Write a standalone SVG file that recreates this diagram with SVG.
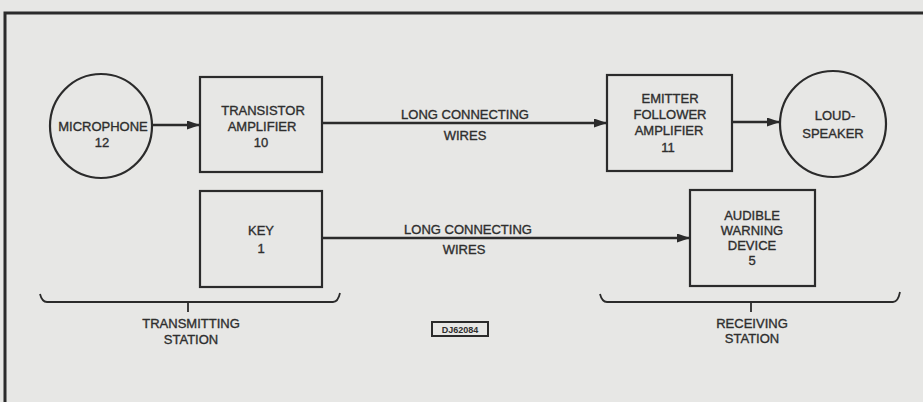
<svg xmlns="http://www.w3.org/2000/svg" width="923" height="402" viewBox="0 0 923 402">
<defs>
<style>
.bg{fill:#e7e7e5}
.n{fill:none;stroke:#2b2b2b;stroke-width:2.2}
.c{fill:none;stroke:#2b2b2b;stroke-width:2.6}
.b{fill:none;stroke:#2b2b2b;stroke-width:1.8}
.t{font-family:"Liberation Sans",Arial,sans-serif;font-size:13px;fill:#2e2e2e;stroke:#2e2e2e;stroke-width:0.35;text-anchor:middle}
.s{font-family:"Liberation Sans",Arial,sans-serif;font-size:9px;font-weight:bold;fill:#2e2e2e;text-anchor:middle}
</style>
<marker id="ah" markerWidth="13" markerHeight="9" refX="13" refY="4.5" orient="auto" markerUnits="userSpaceOnUse">
<path d="M0,0 L13,4.5 L0,9 Z" fill="#2b2b2b"/>
</marker>
</defs>
<rect class="bg" x="0" y="0" width="923" height="402"/>
<path d="M5,402 V13 H923" fill="none" stroke="#2b2b2b" stroke-width="3"/>

<g id="microphone">
<ellipse class="n" cx="101" cy="126" rx="51" ry="52"/>
<text class="t" x="103" y="131">MICROPHONE</text>
<text class="t" x="102" y="147">12</text>
</g>
<g id="transistor-amplifier">
<rect class="n" x="200" y="77" width="122" height="95"/>
<text class="t" x="263" y="115">TRANSISTOR</text>
<text class="t" x="262" y="131">AMPLIFIER</text>
<text class="t" x="261" y="147">10</text>
</g>
<g id="emitter-follower">
<rect class="n" x="607" y="75" width="125" height="96"/>
<text class="t" x="670" y="103">EMITTER</text>
<text class="t" x="670" y="119">FOLLOWER</text>
<text class="t" x="669" y="135">AMPLIFIER</text>
<text class="t" x="668" y="152">11</text>
</g>
<g id="loudspeaker">
<ellipse class="n" cx="833" cy="124" rx="53" ry="53"/>
<text class="t" x="835" y="120">LOUD-</text>
<text class="t" x="833" y="138">SPEAKER</text>
</g>
<g id="key">
<rect class="n" x="200" y="191" width="122" height="96"/>
<text class="t" x="261" y="235">KEY</text>
<text class="t" x="261" y="253">1</text>
</g>
<g id="audible-warning">
<rect class="n" x="690" y="190" width="125" height="96"/>
<text class="t" x="752" y="220">AUDIBLE</text>
<text class="t" x="752" y="235">WARNING</text>
<text class="t" x="752" y="250">DEVICE</text>
<text class="t" x="752" y="265">5</text>
</g>

<g id="connectors">
<line class="c" x1="152" y1="125" x2="200" y2="125" marker-end="url(#ah)"/>
<line class="c" x1="322" y1="123" x2="607" y2="123" marker-end="url(#ah)"/>
<line class="c" x1="732" y1="122" x2="780" y2="122" marker-end="url(#ah)"/>
<line class="c" x1="322" y1="238" x2="690" y2="238" marker-end="url(#ah)"/>
<text class="t" x="465" y="119">LONG CONNECTING</text>
<text class="t" x="465" y="140">WIRES</text>
<text class="t" x="468" y="234">LONG CONNECTING</text>
<text class="t" x="464" y="254">WIRES</text>
</g>

<g id="transmitting-station">
<path class="b" d="M40,294 Q42,302 47,302 H333 Q338,302 340,293"/>
<line class="b" x1="188" y1="302" x2="188" y2="312"/>
<text class="t" x="191" y="328">TRANSMITTING</text>
<text class="t" x="191" y="344">STATION</text>
</g>
<g id="receiving-station">
<path class="b" d="M600,294 Q602,302 607,302 H893 Q898,302 900,292"/>
<line class="b" x1="751" y1="302" x2="751" y2="312"/>
<text class="t" x="752" y="328">RECEIVING</text>
<text class="t" x="752" y="343">STATION</text>
</g>
<g id="drawing-number">
<rect x="432" y="322" width="56" height="14" fill="none" stroke="#2b2b2b" stroke-width="2"/>
<text class="s" x="460" y="332.5">DJ62084</text>
</g>
</svg>
